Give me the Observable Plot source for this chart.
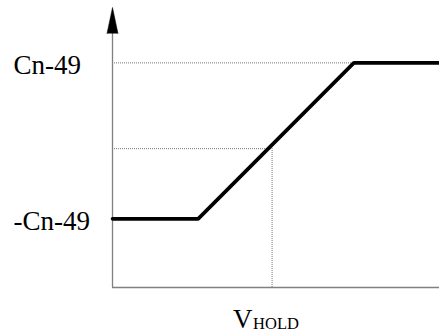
<!DOCTYPE html>
<html>
<head>
<meta charset="utf-8">
<script src="https://cdn.jsdelivr.net/npm/d3@7"></script>
<script src="https://cdn.jsdelivr.net/npm/@observablehq/plot@0.6"></script>
<style>
  html, body { margin: 0; padding: 0; background: #fff; }
  #chart svg { display: block; }
</style>
</head>
<body>
<div id="chart"></div>
<script>
// Transfer characteristic (abstract units)
const curveX = [0, 1.10, 3.10, 4.20];
const curveY = [-1, -1, 1, 1];
const levelTicks = [1, -1];
const levelLabels = ["Cn-49", "-Cn-49"];
const vHold = 2.05;
const vHoldLevel = -0.10;
const rampEndX = 3.10;
const xDomain = [0, 4.20];
const yDomain = [-1.88, 1.71];

const curve = curveX.map((x, i) => ({x, y: curveY[i]}));
const ticks = levelTicks.map((y, i) => ({y, label: levelLabels[i]}));

const serif = "'Liberation Serif', 'Times New Roman', serif";
const guide = {stroke: "#777", strokeWidth: 1, strokeDasharray: "1,1"};
const axisStroke = {stroke: "#808080", strokeWidth: 1.3};

const chart = Plot.plot({
  width: 439,
  height: 333,
  marginLeft: 112,
  marginRight: 0,
  marginTop: 7,
  marginBottom: 46,
  x: {domain: xDomain, axis: null},
  y: {domain: yDomain, axis: null},
  style: {fontFamily: serif, background: "#fff"},
  marks: [
    // dotted guides
    Plot.ruleY([1], {x1: xDomain[0], x2: rampEndX, ...guide}),
    Plot.ruleY([vHoldLevel], {x1: xDomain[0], x2: vHold, ...guide}),
    Plot.ruleX([vHold], {y1: yDomain[0], y2: vHoldLevel, ...guide}),
    // axes
    Plot.ruleX([xDomain[0]], {y1: yDomain[0], y2: yDomain[1] - 0.3, ...axisStroke}),
    Plot.ruleY([yDomain[0]], {x1: xDomain[0], x2: xDomain[1], ...axisStroke}),
    Plot.vector([{x: xDomain[0], y: yDomain[1]}], {
      x: "x", y: "y", length: 26, r: 5.5, shape: "spike", anchor: "end",
      fill: "black", stroke: "black", strokeWidth: 0.5
    }),
    // curve
    Plot.line(curve, {x: "x", y: "y", stroke: "black", strokeWidth: 3.6, strokeLinejoin: "miter"}),
    // level labels
    Plot.text(ticks, {
      x: xDomain[0], y: "y", text: "label", textAnchor: "start", dx: -99, dy: 2.5,
      fontSize: 27, fill: "black", fontFamily: serif
    }),
    // V_HOLD label
    Plot.text(["V"], {
      x: vHold, frameAnchor: "bottom", text: d => d, textAnchor: "end", lineAnchor: "bottom",
      dx: -19.5, dy: 40, fontSize: 27, fill: "black", fontFamily: serif
    }),
    Plot.text(["HOLD"], {
      x: vHold, frameAnchor: "bottom", text: d => d, textAnchor: "start", lineAnchor: "bottom",
      dx: -19, dy: 41, fontSize: 16.5, fill: "black", fontFamily: serif
    })
  ]
});
document.getElementById("chart").appendChild(chart);
</script>
</body>
</html>
